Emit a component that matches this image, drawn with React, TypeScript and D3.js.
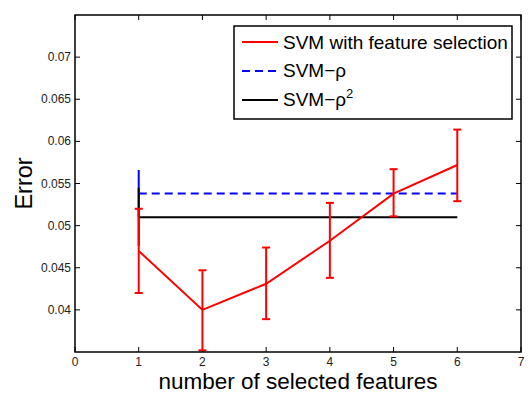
import React from "react";
import * as d3 from "d3";

const xs = [1, 2, 3, 4, 5, 6];
const fsMean = [0.047, 0.04, 0.0431, 0.0482, 0.0538, 0.0572];
const fsLow = [0.042, 0.0352, 0.0389, 0.0438, 0.0511, 0.0529];
const fsHigh = [0.052, 0.0447, 0.0474, 0.0527, 0.0567, 0.0614];
const rhoValue = 0.0538;
const rhoErr = [0.051, 0.0566];
const rho2Value = 0.051;
const rho2Err = [0.0476, 0.0545];
const xTicks = [0, 1, 2, 3, 4, 5, 6, 7];
const yTicks = [0.04, 0.045, 0.05, 0.055, 0.06, 0.065, 0.07];
const legendLabels = ["SVM with feature selection", "SVM\u2212\u03c1", "SVM\u2212\u03c1"];

const W = 531, H = 394;
const L = 75, R = 521, T = 15, B = 352;

export default function App() {
  const x = d3.scaleLinear().domain([0, 7]).range([L, R]);
  const y = d3.scaleLinear().domain([0.035, 0.075]).range([B, T]);
  const line = d3.line<number>().x((_, i) => x(xs[i])).y((d) => y(d));
  const font = "'Liberation Sans', Arial, Helvetica, sans-serif";
  const tl = 5;
  const capW = 4;
  const x0 = xs[0];
  const x1 = xs[xs.length - 1];
  return (
    <svg width={W} height={H} style={{ position: "absolute", left: 0, top: 0, background: "#fff" }} fontFamily={font}>
      <rect x={0} y={0} width={W} height={H} fill="#fff" />
      <defs>
        <clipPath id="plot">
          <rect x={L} y={T} width={R - L} height={B - T} />
        </clipPath>
      </defs>
      {/* ticks */}
      {xTicks.map((t) => (
        <g key={"xt" + t}>
          <line x1={x(t)} x2={x(t)} y1={B} y2={B - tl} stroke="#000" strokeWidth={1} />
          <line x1={x(t)} x2={x(t)} y1={T} y2={T + tl} stroke="#000" strokeWidth={1} />
          <text x={x(t)} y={B + 14} fontSize={12} textAnchor="middle" fill="#222">{t}</text>
        </g>
      ))}
      {yTicks.map((t) => (
        <g key={"yt" + t}>
          <line x1={L} x2={L + tl} y1={y(t)} y2={y(t)} stroke="#000" strokeWidth={1} />
          <line x1={R} x2={R - tl} y1={y(t)} y2={y(t)} stroke="#000" strokeWidth={1} />
          <text x={L - 4} y={y(t) + 4} fontSize={12} textAnchor="end" fill="#222">{String(t)}</text>
        </g>
      ))}
      <g clipPath="url(#plot)">
        {/* SVM-rho */}
        <line x1={x(x0)} x2={x(x0)} y1={y(rhoErr[0])} y2={y(rhoErr[1])} stroke="#0000ff" strokeWidth={2} />
        <line x1={x(x0)} x2={x(x1)} y1={y(rhoValue)} y2={y(rhoValue)} stroke="#0000ff" strokeWidth={2} strokeDasharray="8,5" />
        {/* SVM-rho^2 */}
        <line x1={x(x0)} x2={x(x0)} y1={y(rho2Err[0])} y2={y(rho2Err[1])} stroke="#000" strokeWidth={2} />
        <line x1={x(x0)} x2={x(x1)} y1={y(rho2Value)} y2={y(rho2Value)} stroke="#000" strokeWidth={2} />
        {/* feature selection */}
        <path d={line(fsMean) || ""} fill="none" stroke="#ff0000" strokeWidth={2} />
        {xs.map((v, i) => (
          <g key={"eb" + i} stroke="#ff0000" strokeWidth={2}>
            <line x1={x(v)} x2={x(v)} y1={y(fsLow[i])} y2={y(fsHigh[i])} />
            <line x1={x(v) - capW} x2={x(v) + capW} y1={y(fsLow[i])} y2={y(fsLow[i])} />
            <line x1={x(v) - capW} x2={x(v) + capW} y1={y(fsHigh[i])} y2={y(fsHigh[i])} />
          </g>
        ))}
      </g>
      <rect x={L} y={T} width={R - L} height={B - T} fill="none" stroke="#000" strokeWidth={1.5} />
      {/* legend */}
      <g>
        <rect x={234} y={26} width={278} height={93} fill="#fff" stroke="#000" strokeWidth={1.5} />
        <line x1={242} x2={278} y1={42} y2={42} stroke="#ff0000" strokeWidth={2} />
        <text x={283} y={49} fontSize={19} fill="#000">{legendLabels[0]}</text>
        <line x1={242} x2={278} y1={71} y2={71} stroke="#0000ff" strokeWidth={2} strokeDasharray="8,5" />
        <text x={283} y={77} fontSize={19} fill="#000">{legendLabels[1]}</text>
        <line x1={242} x2={278} y1={100} y2={100} stroke="#000" strokeWidth={2} />
        <text x={283} y={106} fontSize={19} fill="#000">
          {legendLabels[2]}
          <tspan fontSize={13} dy={-8}>2</tspan>
        </text>
      </g>
      {/* axis labels */}
      <text x={298} y={389} fontSize={22.5} textAnchor="middle" fill="#000">number of selected features</text>
      <text transform={`translate(32,${(T + B) / 2}) rotate(-90)`} fontSize={23.5} textAnchor="middle" fill="#000">Error</text>
    </svg>
  );
}
